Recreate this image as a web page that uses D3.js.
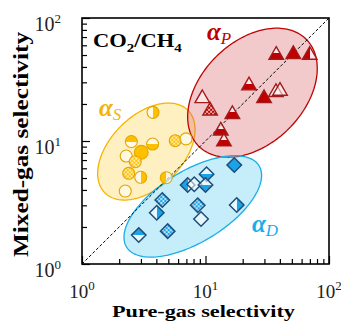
<!DOCTYPE html>
<html>
<head>
<meta charset="utf-8">
<script src="https://cdn.jsdelivr.net/npm/d3@7"></script>
<style>
  html, body { margin: 0; padding: 0; background: #fff; }
  svg { display: block; }
  text { font-family: "Liberation Serif", "Times New Roman", serif; }
</style>
</head>
<body>
<svg id="chart" width="341" height="325"></svg>
<script>
// CO2/CH4 selectivity: pure-gas vs mixed-gas, three groups of membranes
const tickValues = [1, 10, 100];
const tickExponents = ["0", "1", "2"];

// group S (circles): pure-gas, mixed-gas, fill style
const sPure  = [3.76, 2.51, 3.02, 3.73, 5.69, 6.95, 2.28, 2.70, 2.39, 2.99, 4.81, 2.24];
const sMixed = [17.1, 9.90, 8.09, 9.45, 10.05, 10.4, 7.55, 6.79, 5.46, 5.07, 5.03, 3.92];
const sFill  = ["right", "top", "full", "bottom", "check", "empty", "empty", "check", "check", "right", "left", "empty"];

// group P (triangles)
const pPure  = [37.4, 51.4, 69.8, 22.5, 29.8, 37.2, 40.1, 9.42, 10.9, 16.5, 13.3, 14.1];
const pMixed = [50.0, 50.7, 50.0, 28.2, 22.2, 24.9, 25.5, 22.2, 17.6, 16.5, 12.1, 9.87];
const pFill  = ["bottom", "full", "left", "bottom", "full", "empty", "empty", "empty", "check", "bottom", "bottom", "bottom"];

// group D (diamonds)
const dPure  = [17.1, 10.2, 7.17, 8.11, 10.0, 4.47, 4.03, 8.65, 9.20, 17.9, 2.88, 4.94];
const dMixed = [6.38, 5.36, 4.39, 4.45, 4.39, 3.31, 2.61, 3.00, 2.32, 3.02, 1.72, 1.85];
const dFill  = ["full", "bottom", "left", "empty", "bottom", "check", "right", "check", "empty", "right", "top", "check"];

// group envelopes: centre (pure, mixed), semi-axes in decades, tilt in degrees
const envelopeNames  = ["S", "P", "D"];
const envelopeCentre = [[3.32, 8.21], [24.0, 24.7], [7.89, 2.94]];
const envelopeAxes   = [[0.475, 0.292], [0.615, 0.415], [0.63, 0.289]];
const envelopeTilt   = [45, 45, 31.7];

const colors = {
  S: { mark: "#ffc000", stroke: "#e3a600", fill: "#ffd34d", edge: "#f5b400", label: "#f5b400" },
  P: { mark: "#c00000", stroke: "#a31a1a", fill: "#d9666c", edge: "#c00000", label: "#c00000" },
  D: { mark: "#1aa3e8", stroke: "#1f4e79", fill: "#5ccbf2", edge: "#18aee8", label: "#18aee8" }
};

const svg = d3.select("#chart");
const margin = { top: 18, right: 12, bottom: 61, left: 82 };
const W = 341 - margin.left - margin.right;
const H = 325 - margin.top - margin.bottom;

const x = d3.scaleLog().domain([1, 100]).range([margin.left, margin.left + W]);
const y = d3.scaleLog().domain([1, 100]).range([margin.top + H, margin.top]);

// fill definitions: half fills and checks per group
const defs = svg.append("defs");
Object.entries(colors).forEach(([k, c]) => {
  const halves = {
    bottom: [0, 0, 0, 1], top: [0, 1, 0, 0], left: [1, 0, 0, 0], right: [0, 0, 1, 0]
  };
  Object.entries(halves).forEach(([name, v]) => {
    const g = defs.append("linearGradient").attr("id", `${k}-${name}`)
      .attr("x1", v[0]).attr("y1", v[1]).attr("x2", v[2]).attr("y2", v[3]);
    g.append("stop").attr("offset", "0").attr("stop-color", "#fff").attr("stop-opacity", 0.6);
    g.append("stop").attr("offset", "0.5").attr("stop-color", "#fff").attr("stop-opacity", 0.6);
    g.append("stop").attr("offset", "0.5").attr("stop-color", c.mark);
    g.append("stop").attr("offset", "1").attr("stop-color", c.mark);
  });
  const p = defs.append("pattern").attr("id", `${k}-check`)
    .attr("patternUnits", "userSpaceOnUse").attr("width", 4).attr("height", 4);
  p.append("rect").attr("width", 4).attr("height", 4).attr("fill", c.mark);
  p.append("rect").attr("width", 2).attr("height", 2).attr("fill", "#fff").attr("opacity", 0.7);
  p.append("rect").attr("x", 2).attr("y", 2).attr("width", 2).attr("height", 2).attr("fill", "#fff").attr("opacity", 0.7);
});

const fillFor = (k, style) =>
  style === "full" ? colors[k].mark : style === "empty" ? "rgba(255,255,255,0.55)" : `url(#${k}-${style})`;

// envelopes drawn in log space through the scales
const lineGen = d3.line().curve(d3.curveLinearClosed);
envelopeNames.forEach((k, i) => {
  const [cx, cy] = envelopeCentre[i].map(Math.log10);
  const [a, b] = envelopeAxes[i];
  const th = envelopeTilt[i] * Math.PI / 180;
  const pts = d3.range(0, 360, 2).map(deg => {
    const t = deg * Math.PI / 180;
    const u = a * Math.cos(t), v = b * Math.sin(t);
    const lx = cx + u * Math.cos(th) - v * Math.sin(th);
    const ly = cy + u * Math.sin(th) + v * Math.cos(th);
    return [x(Math.pow(10, lx)), y(Math.pow(10, ly))];
  });
  svg.append("path").attr("d", lineGen(pts))
    .attr("fill", colors[k].fill).attr("fill-opacity", 0.35)
    .attr("stroke", colors[k].edge).attr("stroke-width", 1.3);
});

// parity line
svg.append("line")
  .attr("x1", x(1)).attr("y1", y(1)).attr("x2", x(100)).attr("y2", y(100))
  .attr("stroke", "#000").attr("stroke-width", 1).attr("stroke-dasharray", "3,2");

// markers
const diamond = {
  draw(ctx, size) {
    const r = Math.sqrt(size / 2);
    ctx.moveTo(0, -r); ctx.lineTo(r, 0); ctx.lineTo(0, r); ctx.lineTo(-r, 0); ctx.closePath();
  }
};
const groups = [
  { k: "S", xs: sPure, ys: sMixed, fs: sFill, type: d3.symbolCircle, size: 113, sw: 1.1 },
  { k: "P", xs: pPure, ys: pMixed, fs: pFill, type: d3.symbolTriangle, size: 92, sw: 1.4 },
  { k: "D", xs: dPure, ys: dMixed, fs: dFill, type: diamond, size: 105, sw: 1.5 }
];
groups.forEach(g => {
  svg.append("g").selectAll("path").data(g.xs.map((v, i) => i)).join("path")
    .attr("transform", i => `translate(${x(g.xs[i])},${y(g.ys[i])})`)
    .attr("d", i => d3.symbol(g.type, g.fs[i] === "full" && g.k === "S" ? 150 : g.size)())
    .attr("fill", i => fillFor(g.k, g.fs[i]))
    .attr("stroke", colors[g.k].stroke)
    .attr("stroke-width", g.sw);
});

// axes with inward ticks
const minor = [];
[1, 10].forEach(d => { for (let m = 2; m <= 9; m++) minor.push(d * m); });
const axB = svg.append("g").attr("transform", `translate(0,${margin.top + H})`);
axB.call(d3.axisBottom(x).tickValues(minor).tickSize(-5).tickFormat(""));
axB.append("g").call(d3.axisBottom(x).tickValues(tickValues).tickSize(-8).tickFormat(""));
const axL = svg.append("g").attr("transform", `translate(${margin.left},0)`);
axL.call(d3.axisLeft(y).tickValues(minor).tickSize(-5).tickFormat(""));
axL.append("g").call(d3.axisLeft(y).tickValues(tickValues).tickSize(-8).tickFormat(""));
svg.selectAll(".domain").remove();
svg.selectAll(".tick line").attr("stroke", "#000").attr("stroke-width", 1.2);

// frame
svg.append("rect")
  .attr("x", margin.left).attr("y", margin.top).attr("width", W).attr("height", H)
  .attr("fill", "none").attr("stroke", "#000").attr("stroke-width", 1.6);

// tick labels
tickValues.forEach((v, i) => {
  const tx = svg.append("text").attr("x", x(v)).attr("y", 298)
    .attr("text-anchor", "middle").attr("font-size", 19).attr("fill", "#222");
  tx.append("tspan").text("10");
  tx.append("tspan").attr("font-size", 13).attr("dy", -8).text(tickExponents[i]);
  const ty = svg.append("text").attr("x", 61).attr("y", y(v) + 13)
    .attr("text-anchor", "end").attr("font-size", 20).attr("fill", "#222");
  ty.append("tspan").text("10");
  ty.append("tspan").attr("font-size", 13).attr("dy", -8).text(tickExponents[i]);
});

// axis titles
svg.append("text").attr("x", 112).attr("y", 317)
  .attr("font-size", 17).attr("font-weight", "bold")
  .attr("textLength", 183).attr("lengthAdjust", "spacingAndGlyphs")
  .text("Pure-gas selectivity");
svg.append("text").attr("transform", "translate(28,257) rotate(-90)")
  .attr("font-size", 20).attr("font-weight", "bold")
  .attr("textLength", 225).attr("lengthAdjust", "spacingAndGlyphs")
  .text("Mixed-gas selectivity");

// gas pair
const title = svg.append("text").attr("transform", "translate(93,47) scale(1.25,1)")
  .attr("font-size", 18).attr("font-weight", "bold");
title.append("tspan").text("CO");
title.append("tspan").attr("font-size", 12).attr("dy", 5).text("2");
title.append("tspan").attr("dy", -5).text("/CH");
title.append("tspan").attr("font-size", 12).attr("dy", 5).text("4");

// group labels
const alphaLabels = [["S", 99, 116], ["P", 207, 40], ["D", 252, 232]];
alphaLabels.forEach(([k, lx, ly]) => {
  const t = svg.append("text").attr("x", lx).attr("y", ly)
    .attr("font-size", 25).attr("font-style", "italic").attr("font-weight", "bold")
    .attr("fill", colors[k].label);
  t.append("tspan").text("α");
  t.append("tspan").attr("font-size", 17).attr("font-weight", "normal").attr("dy", 4).text(k);
});
</script>
</body>
</html>
